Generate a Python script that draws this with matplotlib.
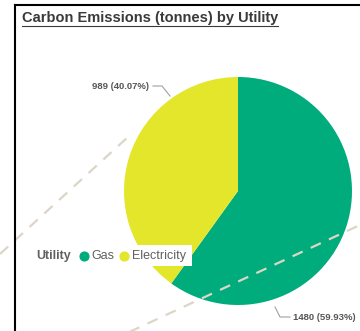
import matplotlib.pyplot as plt
from matplotlib.lines import Line2D
from matplotlib.patches import Rectangle

plt.rcParams['font.family'] = ['Liberation Sans', 'DejaVu Sans']

utilities = ['Gas', 'Electricity']
emissions = [1480, 989]
percents = [59.93, 40.07]
colors = ['#00AC7B', '#E3E62B']

W, H = 360, 331
fig = plt.figure(figsize=(W / 100, H / 100), dpi=100)


def fx(x):
    return x / W


def fy(y):
    return 1 - y / H


# pie axes: centre (238,191), radius 114 px
ax = fig.add_axes([fx(124), fy(305), 228 / W, 228 / H])
ax.pie(emissions, colors=colors, startangle=90, counterclock=False,
       wedgeprops=dict(linewidth=0))
ax.set_xlim(-1, 1)
ax.set_ylim(-1, 1)
ax.axis('off')

# decorative dashed lines
dash = dict(color='#DCD6C8', lw=1.6, linestyle=(0, (5, 4)), transform=fig.transFigure)
fig.add_artist(Line2D([fx(0), fx(128)], [fy(254), fy(137)], zorder=-1, **dash))
fig.add_artist(Line2D([fx(125), fx(360)], [fy(334), fy(225)], zorder=5, **dash))

# frame
frame = dict(color='black', lw=1.5, transform=fig.transFigure, zorder=4)
fig.add_artist(Line2D([fx(15), fx(15)], [fy(5), fy(331)], **frame))
fig.add_artist(Line2D([fx(15), fx(360)], [fy(5), fy(5)], **frame))

# title with underline
title = fig.text(fx(22), fy(18), 'Carbon Emissions (tonnes) by Utility',
                 fontsize=10.5, fontweight='bold', color='#3A3A3A', va='center')
fig.canvas.draw()
bb = title.get_window_extent()
fig.add_artist(Line2D([bb.x0 / W, bb.x1 / W], [fy(26), fy(26)], color='#3A3A3A',
                      lw=0.8, transform=fig.transFigure))

# data labels with leader lines
lead = dict(color='#A0A0A0', lw=0.8, transform=fig.transFigure, zorder=6)
fig.text(fx(149), fy(86), f'{emissions[1]} ({percents[1]:.2f}%)', fontsize=6.8,
         color='#555555', ha='right', va='center', fontweight='bold')
fig.add_artist(Line2D([fx(153), fx(162), fx(170)], [fy(86), fy(86), fy(96)], **lead))
fig.text(fx(293), fy(318), f'{emissions[0]} ({percents[0]:.2f}%)', fontsize=6.8,
         color='#555555', ha='left', va='center', fontweight='bold')
fig.add_artist(Line2D([fx(275), fx(280), fx(290)], [fy(307), fy(317), fy(317)], **lead))

# legend
fig.add_artist(Rectangle((fx(28), fy(266)), (192 - 28) / W, 21 / H, facecolor='white',
                         edgecolor='none', transform=fig.transFigure, zorder=7))
fig.text(fx(36), fy(256), 'Utility', fontsize=9, fontweight='bold',
         color='#606060', va='center', zorder=8)
leg_x = [84, 124]
text_x = [91, 132]
for i, name in enumerate(utilities):
    fig.add_artist(Line2D([fx(leg_x[i])], [fy(256)], marker='o', markersize=6.3,
                          color=colors[i], transform=fig.transFigure, zorder=8))
    fig.text(fx(text_x[i]), fy(256), name, fontsize=9, color='#606060',
             va='center', zorder=8)

fig.savefig('out.png', dpi=100)
